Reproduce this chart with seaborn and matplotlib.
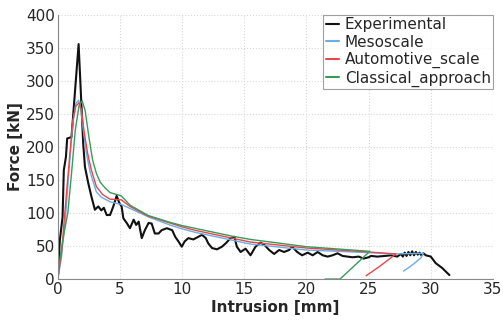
import numpy as np
import pandas as pd
import matplotlib
matplotlib.use("Agg")
import matplotlib.pyplot as plt
import seaborn as sns

# ---- data ----
exp_x = [0.0, 0.16, 0.38, 0.48, 0.65, 0.75, 1.1, 1.67, 2.04, 2.18, 2.45, 2.7, 2.98, 3.25, 3.5, 3.7,
         3.93, 4.2, 4.46, 4.73, 4.95, 5.13, 5.27, 5.54, 5.8, 6.1, 6.3, 6.5, 6.75, 7.0, 7.3, 7.55,
         7.8, 8.1, 8.35, 8.77, 9.2, 9.44, 9.7, 9.97, 10.2, 10.5, 10.9, 11.3, 11.6, 11.9, 12.1, 12.4,
         12.8, 13.2, 13.5, 13.9, 14.2, 14.4, 14.7, 15.1, 15.5, 15.9, 16.3, 16.6, 17.0, 17.4, 17.8,
         18.2, 18.6, 18.85, 19.25, 19.65, 20.1, 20.5, 20.9, 21.3, 21.7, 22.1, 22.5, 22.9, 23.3,
         23.7, 24.2, 24.6, 25.0, 25.2, 25.7, 26.3, 26.8, 27.3, 27.6, 27.75, 27.9, 28.05, 28.2, 28.35,
         28.5, 28.65, 28.8, 28.95, 29.1, 29.25, 29.4, 29.6, 30.0, 30.4, 30.9, 31.5]
exp_f = [3, 59, 94, 165, 185, 213, 215, 356, 205, 170, 145, 125, 105, 110, 104, 108,
         97, 97, 110, 126, 115, 110, 92, 85, 77, 90, 82, 87, 62, 74, 85, 84,
         69, 69, 74, 77, 74, 64, 57, 49, 57, 62, 60, 64, 67, 62, 54, 47,
         45, 49, 54, 62, 64, 49, 41, 46, 36, 49, 55, 52, 44, 38, 44,
         41, 44, 49, 41, 36, 40, 36, 41, 36, 34, 36, 39, 35, 34,
         33, 34, 31, 33, 35, 34, 35, 36, 34, 38, 34, 40, 35, 41, 36,
         42, 36, 41, 37, 40, 36, 39, 36, 34, 24, 17, 6]

meso_x = [0.0, 0.3, 0.6, 0.9, 1.2, 1.45, 1.67, 1.85, 2.05, 2.3, 2.6, 2.85, 3.1, 3.5, 4.2, 5.1,
          5.8, 7.3, 8.0, 9.0, 10.0, 11.0, 12.0, 13.0, 14.0, 15.5, 20.0, 25.0, 27.0, 29.4,
          29.2, 28.7, 28.2, 27.8]
meso_f = [0, 35, 90, 165, 235, 266, 271, 258, 225, 190, 162, 147, 132, 124, 117, 113,
          107, 94, 89, 82, 76, 71, 67, 63, 59, 53, 44, 40, 38, 39,
          32, 24, 17, 12]

auto_x = [0.0, 0.3, 0.56, 0.9, 1.2, 1.45, 1.7, 1.9, 2.1, 2.4, 2.7, 3.1, 3.6, 4.2, 5.1,
          5.8, 7.3, 8.0, 9.0, 10.0, 11.0, 12.0, 13.0, 14.0, 15.5, 20.0, 25.0, 27.2,
          26.5, 25.8, 24.8]
auto_f = [0, 40, 100, 175, 240, 262, 267, 255, 225, 190, 165, 140, 128, 121, 120,
          110, 95, 91, 85, 79, 74, 70, 66, 62, 56, 47, 41, 38,
          28, 18, 5]

class_x = [0.0, 0.2, 0.5, 0.8, 1.1, 1.4, 1.7, 1.96, 2.2, 2.5, 2.8, 3.1, 3.4, 3.8, 4.2, 5.1,
           5.8, 7.3, 8.0, 9.0, 10.0, 11.0, 12.0, 13.0, 14.0, 15.5, 20.0, 25.1,
           24.3, 23.5, 22.7, 21.5]
class_f = [0, 35, 70, 100, 160, 225, 262, 270, 255, 215, 180, 160, 147, 138, 131, 126,
           112, 96, 92, 86, 81, 77, 73, 69, 65, 60, 49, 42,
           28, 14, 0, 0]

labels = ["Experimental", "Mesoscale", "Automotive_scale", "Classical_approach"]
colors = ["#111111", "#6aaee6", "#e8474b", "#3a9a5a"]
widths = [1.5, 1.0, 1.0, 1.0]

frames = []
for lab, xs, fs in zip(labels, [exp_x, meso_x, auto_x, class_x], [exp_f, meso_f, auto_f, class_f]):
    frames.append(pd.DataFrame({"Intrusion": xs, "Force": fs, "series": lab,
                                "order": np.arange(len(xs))}))
df = pd.concat(frames, ignore_index=True)

sns.set_theme(style="whitegrid")
plt.rcParams["font.family"] = ["DejaVu Sans"]

fig = plt.figure(figsize=(5.03, 3.20), dpi=100)
ax = fig.add_axes([0.115, 0.128, 0.865, 0.825])

for lab, col, lw in zip(labels, colors, widths):
    sub = df[df["series"] == lab]
    sns.lineplot(data=sub, x="Intrusion", y="Force", ax=ax, sort=False, estimator=None,
                 color=col, linewidth=lw, label=lab)

ax.set_xlim(0, 35)
ax.set_ylim(0, 400)
ax.set_xticks(range(0, 36, 5))
ax.set_yticks(range(0, 401, 50))
ax.tick_params(labelsize=11, length=0, pad=2)
ax.set_xlabel("Intrusion [mm]", fontsize=11, fontweight="bold", labelpad=2)
ax.set_ylabel("Force [kN]", fontsize=11, fontweight="bold", labelpad=2)
ax.grid(True, color="#d8d8d8", linestyle=":", linewidth=0.8)
ax.set_facecolor("white")
for s in ["top", "right"]:
    ax.spines[s].set_visible(False)
for s in ["left", "bottom"]:
    ax.spines[s].set_color("#888888")
    ax.spines[s].set_linewidth(0.8)

leg = ax.legend(loc="upper right", fontsize=11, handlelength=0.9, handletextpad=0.35,
                labelspacing=0.15, borderpad=0.15, borderaxespad=0.0, frameon=True,
                fancybox=False)
leg.get_frame().set_edgecolor("#888888")
leg.get_frame().set_linewidth(0.8)
for line in leg.get_lines():
    line.set_linewidth(1.5)

fig.savefig("out.png", dpi=100)
